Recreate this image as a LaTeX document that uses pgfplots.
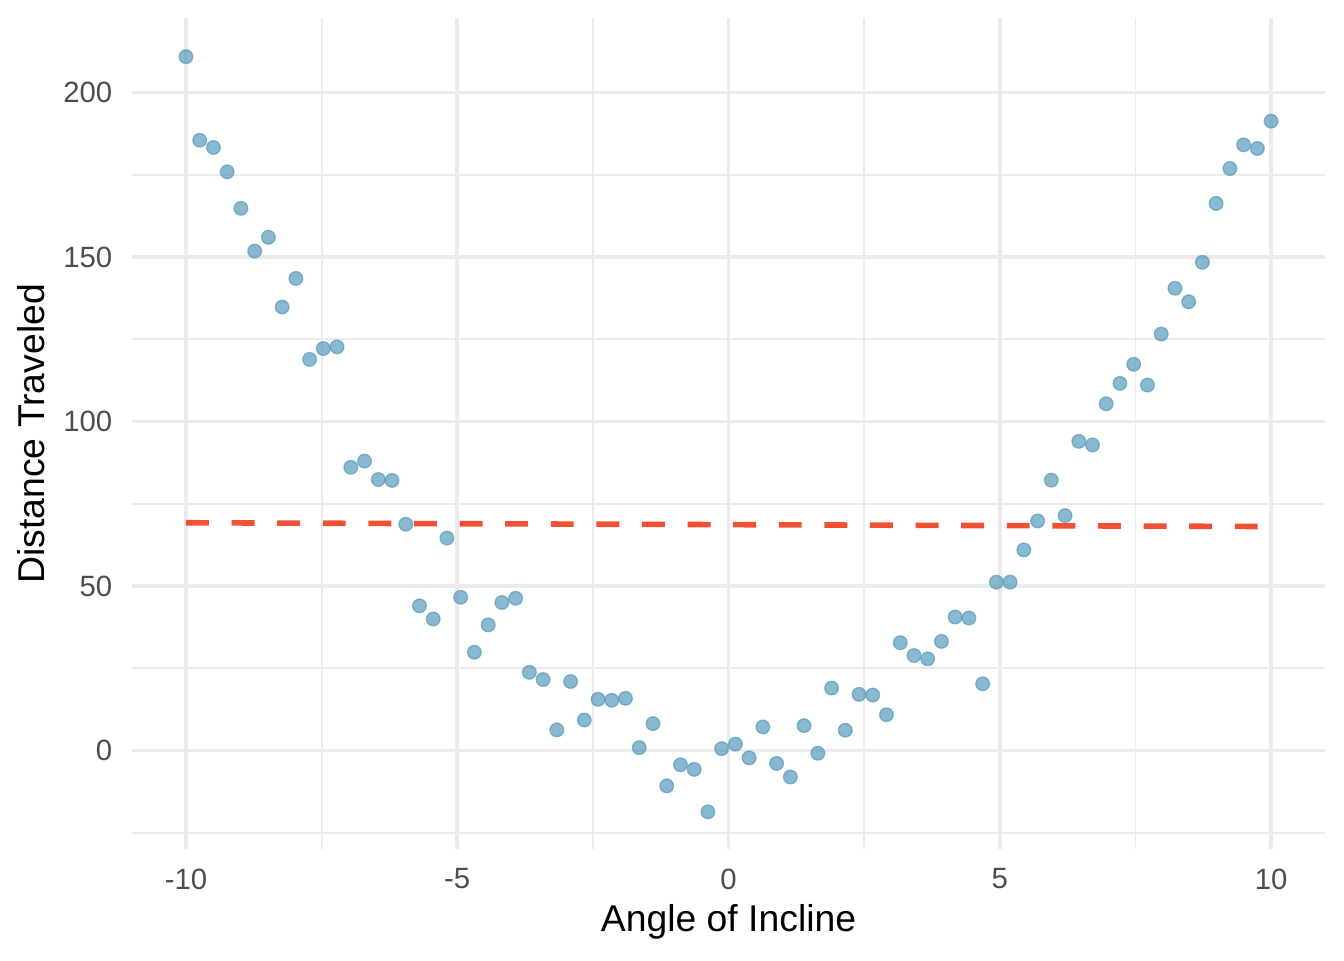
\documentclass[border=0pt]{standalone}
\usepackage{pgfplots}
\pgfplotsset{compat=1.18}
\usepackage{fontspec}
\setmainfont{Liberation Sans}

\definecolor{ptblue}{HTML}{569BBD}
\definecolor{fitred}{HTML}{F05133}
\definecolor{gridc}{HTML}{EBEBEB}
\definecolor{tickc}{HTML}{4D4D4D}

\begin{document}
\begin{tikzpicture}
	\begin{axis}[at={(0,0)}, anchor=south west,
		scale only axis, width=447.6pt, height=311.7pt,
		xmin=-11, xmax=11, ymin=-30, ymax=222.6,
		xtick={-10,-5,0,5,10}, xticklabels={-10,-5,0,5,10},
		ytick={0,50,100,150,200}, yticklabels={0,50,100,150,200},
		minor xtick={-7.5,-2.5,2.5,7.5},
		minor ytick={-25,25,75,125,175},
		grid=both,
		major grid style={color=gridc, line width=1.36pt},
		minor grid style={color=gridc, line width=0.68pt},
		axis line style={draw=none}, tick style={draw=none},
		major tick length=0pt, minor tick length=0pt,
		xticklabel style={font=\fontsize{11}{13}\selectfont, text=tickc,
			inner sep=0pt, anchor=north, yshift=-7.1pt},
		yticklabel style={font=\fontsize{11}{13}\selectfont, text=tickc,
			inner sep=0pt, anchor=east, xshift=-7.1pt},
		xlabel=Angle of Incline, ylabel=Distance Traveled,
		label style={font=\fontsize{14}{16}\selectfont, inner sep=0pt},
		xlabel style={at={(axis description cs:0.5,-0.0991)}, anchor=base},
		ylabel style={at={(axis description cs:-0.0728,0.5)}, anchor=base, rotate=0},
		clip=false]

% observations
\addplot[only marks, mark=*, mark size=2.55pt,
	mark options={fill=ptblue, draw=ptblue, line width=0.5pt, opacity=0.7}]
	coordinates {
(-10.000, 210.9) (-9.747, 185.5) (-9.494, 183.3) (-9.241, 175.9)
(-8.987, 164.8) (-8.734, 151.8) (-8.481, 156.0) (-8.228, 134.8)
(-7.975, 143.5) (-7.722, 118.9) (-7.468, 122.2) (-7.215, 122.7)
(-6.962, 86.1) (-6.709, 88.0) (-6.456, 82.4) (-6.203, 82.1)
(-5.949, 68.8) (-5.696, 44.0) (-5.443, 40.0) (-5.190, 64.6)
(-4.937, 46.6) (-4.684, 29.9) (-4.430, 38.2) (-4.177, 45.0)
(-3.924, 46.3) (-3.671, 23.8) (-3.418, 21.6) (-3.165, 6.3)
(-2.911, 21.0) (-2.658, 9.3) (-2.405, 15.6) (-2.152, 15.3)
(-1.899, 15.9) (-1.646, 0.9) (-1.392, 8.2) (-1.139, -10.7)
(-0.886, -4.3) (-0.633, -5.7) (-0.380, -18.6) (-0.127, 0.6)
(0.127, 2.0) (0.380, -2.2) (0.633, 7.2) (0.886, -3.9)
(1.139, -8.0) (1.392, 7.6) (1.646, -0.8) (1.899, 19.0)
(2.152, 6.2) (2.405, 17.1) (2.658, 16.9) (2.911, 10.9)
(3.165, 32.8) (3.418, 28.9) (3.671, 27.9) (3.924, 33.2)
(4.177, 40.6) (4.430, 40.3) (4.684, 20.3) (4.937, 51.2)
(5.190, 51.2) (5.443, 61.0) (5.696, 69.8) (5.949, 82.2)
(6.203, 71.4) (6.456, 94.0) (6.709, 92.9) (6.962, 105.4)
(7.215, 111.6) (7.468, 117.4) (7.722, 111.1) (7.975, 126.6)
(8.228, 140.5) (8.481, 136.4) (8.734, 148.4) (8.987, 166.3)
(9.241, 176.9) (9.494, 184.1) (9.747, 183.0) (10.000, 191.3)
};

% linear fit
\addplot[fitred, line width=2.1pt, line cap=butt,
	dash pattern=on 8.6pt off 8.5pt] coordinates {
(-10, 69.25)
(10, 68.1)
};

\end{axis}
\pgfresetboundingbox
\path[use as bounding box] (-49.4pt,-41.5pt) rectangle (454.6pt,318.5pt);
\end{tikzpicture}
\end{document}
